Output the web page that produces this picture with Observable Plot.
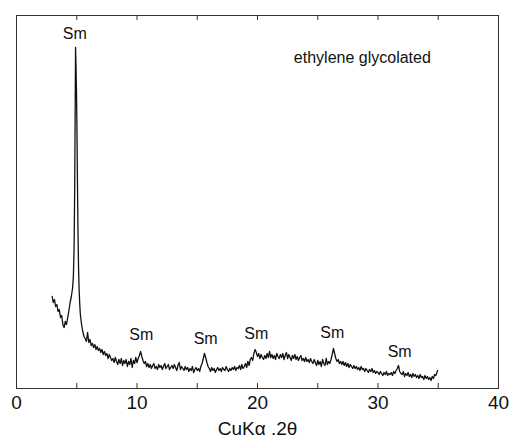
<!DOCTYPE html>
<html>
<head>
<meta charset="utf-8">
<script src="https://cdn.jsdelivr.net/npm/d3@7"></script>
<script src="https://cdn.jsdelivr.net/npm/@observablehq/plot@0.6"></script>
<style>
  html, body { margin: 0; padding: 0; background: #fff; }
</style>
</head>
<body>
<div id="chart"></div>
<script>
// 2θ (CuKα) positions
const twoTheta = [
  2.96, 3.05, 3.15, 3.25, 3.35, 3.45, 3.55, 3.65, 3.75, 3.85, 3.95, 4.05, 4.15, 4.25, 4.35, 4.45, 4.55, 4.65, 4.72, 4.78, 4.83, 4.87, 4.9, 4.94, 4.98, 5.02, 5.06, 5.1, 5.15, 5.2, 5.25, 5.3, 5.4, 5.5, 5.6, 5.7, 5.8, 5.9,
  6.0, 6.1, 6.2, 6.3, 6.4, 6.5, 6.6, 6.7, 6.8, 6.9,
  7.0, 7.1, 7.2, 7.3, 7.4, 7.5, 7.6, 7.7, 7.8, 7.9,
  8.0, 8.1, 8.2, 8.3, 8.4, 8.5, 8.6, 8.7, 8.8, 8.9,
  9.0, 9.1, 9.2, 9.3, 9.4, 9.5, 9.6, 9.7, 9.8, 9.9,
  10.0, 10.1, 10.2, 10.3, 10.4, 10.5, 10.6, 10.7, 10.8, 10.9,
  11.0, 11.1, 11.2, 11.3, 11.4, 11.5, 11.6, 11.7, 11.8, 11.9,
  12.0, 12.1, 12.2, 12.3, 12.4, 12.5, 12.6, 12.7, 12.8, 12.9,
  13.0, 13.1, 13.2, 13.3, 13.4, 13.5, 13.6, 13.7, 13.8, 13.9,
  14.0, 14.1, 14.2, 14.3, 14.4, 14.5, 14.6, 14.7, 14.8, 14.9,
  15.0, 15.1, 15.2, 15.3, 15.4, 15.5, 15.6, 15.7, 15.8, 15.9,
  16.0, 16.1, 16.2, 16.3, 16.4, 16.5, 16.6, 16.7, 16.8, 16.9,
  17.0, 17.1, 17.2, 17.3, 17.4, 17.5, 17.6, 17.7, 17.8, 17.9,
  18.0, 18.1, 18.2, 18.3, 18.4, 18.5, 18.6, 18.7, 18.8, 18.9,
  19.0, 19.1, 19.2, 19.3, 19.4, 19.5, 19.6, 19.7, 19.8, 19.9,
  20.0, 20.1, 20.2, 20.3, 20.4, 20.5, 20.6, 20.7, 20.8, 20.9,
  21.0, 21.1, 21.2, 21.3, 21.4, 21.5, 21.6, 21.7, 21.8, 21.9,
  22.0, 22.1, 22.2, 22.3, 22.4, 22.5, 22.6, 22.7, 22.8, 22.9,
  23.0, 23.1, 23.2, 23.3, 23.4, 23.5, 23.6, 23.7, 23.8, 23.9,
  24.0, 24.1, 24.2, 24.3, 24.4, 24.5, 24.6, 24.7, 24.8, 24.9,
  25.0, 25.1, 25.2, 25.3, 25.4, 25.5, 25.6, 25.7, 25.8, 25.9,
  26.0, 26.1, 26.2, 26.3, 26.4, 26.5, 26.6, 26.7, 26.8, 26.9,
  27.0, 27.1, 27.2, 27.3, 27.4, 27.5, 27.6, 27.7, 27.8, 27.9,
  28.0, 28.1, 28.2, 28.3, 28.4, 28.5, 28.6, 28.7, 28.8, 28.9,
  29.0, 29.1, 29.2, 29.3, 29.4, 29.5, 29.6, 29.7, 29.8, 29.9,
  30.0, 30.1, 30.2, 30.3, 30.4, 30.5, 30.6, 30.7, 30.8, 30.9,
  31.0, 31.1, 31.2, 31.3, 31.4, 31.5, 31.6, 31.7, 31.8, 31.9,
  32.0, 32.1, 32.2, 32.3, 32.4, 32.5, 32.6, 32.7, 32.8, 32.9,
  33.0, 33.1, 33.2, 33.3, 33.4, 33.5, 33.6, 33.7, 33.8, 33.9,
  34.0, 34.1, 34.2, 34.3, 34.4, 34.5, 34.6, 34.7, 34.8, 34.95
];
// intensity (arbitrary units)
const intensity = [
  92, 86, 89, 82, 84, 77, 79, 71, 73, 64, 61, 67, 64, 71, 78, 86, 92, 100, 112, 140, 200, 280, 341, 322, 295, 255, 205, 160, 120, 98, 84, 74, 64, 57, 52, 50, 47, 56,
  46, 49, 43, 45, 41, 44, 39, 42, 38, 40,
  36, 39, 34, 37, 33, 35, 30, 34, 31, 28,
  30, 26, 31, 27, 24, 29, 25, 30, 23, 28,
  25, 29, 22, 27, 24, 30, 21, 28, 25, 31,
  26, 30, 33, 37, 32, 28, 25, 27, 22, 25,
  21, 24, 20, 23, 25, 20, 22, 19, 24, 21,
  23, 19, 22, 25, 20, 22, 24, 19, 21, 23,
  20, 24, 21, 18, 23, 26, 19, 22, 20, 18,
  22, 19, 21, 17, 20, 18, 22, 16, 19, 21,
  18, 20, 17, 22, 25, 30, 35, 31, 26, 22,
  20, 17, 21, 18, 20, 16, 19, 21, 18, 20,
  17, 21, 19, 18, 22, 19, 17, 20, 18, 21,
  19, 22, 18, 21, 20, 23, 19, 24, 20, 22,
  25, 21, 27, 23, 29, 31, 28, 35, 39, 36,
  32, 35, 30, 34, 31, 29, 33, 30, 35, 31,
  37, 31, 34, 30, 33, 29, 35, 32, 30, 34,
  31, 35, 29, 33, 36, 30, 34, 31, 28, 33,
  30, 34, 29, 32, 28, 31, 33, 28, 30, 27,
  31, 27, 29, 26, 30, 27, 25, 29, 26, 23,
  28, 24, 27, 22, 29, 25, 23, 30, 24, 27,
  25, 29, 34, 40, 35, 30, 27, 29, 25, 27,
  24, 27, 23, 26, 22, 25, 21, 24, 22, 20,
  23, 20, 22, 19, 21, 18, 22, 19, 20, 17,
  20, 18, 16, 19, 17, 20, 16, 18, 15, 17,
  16, 14, 17, 15, 13, 16, 14, 17, 13, 15,
  14, 16, 13, 17, 15, 18, 20, 23, 17, 15,
  14, 17, 12, 15, 13, 16, 12, 14, 11, 15,
  12, 14, 11, 13, 10, 14, 11, 12, 9, 13,
  10, 12, 9, 11, 8, 12, 10, 14, 13, 18
];

// peak annotations
const labelText = ["Sm", "Sm", "Sm", "Sm", "Sm", "Sm"];
const labelX = [4.84, 10.35, 15.7, 19.9, 26.2, 31.8];
const labelY = [355, 54, 50, 55, 56, 37];

const noteText = ["ethylene glycolated"];
const noteX = [28.7];
const noteY = [331];

const labeledTicks = [0, 10, 20, 30, 40];
const minorTicks = [5, 10, 15, 20, 25, 30, 35];

const data = twoTheta.map((t, i) => ({t, v: intensity[i]}));
const labels = labelText.map((s, i) => ({s, x: labelX[i], y: labelY[i]}));
const notes = noteText.map((s, i) => ({s, x: noteX[i], y: noteY[i]}));

const chart = Plot.plot({
  width: 510,
  height: 438,
  marginLeft: 16,
  marginRight: 12,
  marginTop: 15,
  marginBottom: 50,
  style: {fontFamily: "'Liberation Sans', Arial, Helvetica, sans-serif", fontSize: "19px", color: "#111", background: "#fff"},
  x: {domain: [0, 40]},
  y: {domain: [0, 373], axis: null},
  marks: [
    Plot.frame({stroke: "#333", strokeWidth: 1}),
    Plot.tickX(minorTicks, {x: d => d, insetTop: 368, stroke: "#333", strokeWidth: 1}),
    Plot.tickX(minorTicks, {x: d => d, insetBottom: 368, stroke: "#333", strokeWidth: 1}),
    Plot.axisX(labeledTicks, {anchor: "bottom", tickSize: 0, tickPadding: 7, fontSize: 19, label: "CuKα .2θ", labelAnchor: "center", labelArrow: "none", labelOffset: 46}),
    Plot.line(data, {x: "t", y: "v", stroke: "#111", strokeWidth: 1.3}),
    Plot.text(labels, {x: "x", y: "y", text: "s", fontSize: 16, fill: "#111"}),
    Plot.text(notes, {x: "x", y: "y", text: "s", fontSize: 16, fill: "#111"})
  ]
});
document.getElementById("chart").appendChild(chart);
</script>
</body>
</html>
